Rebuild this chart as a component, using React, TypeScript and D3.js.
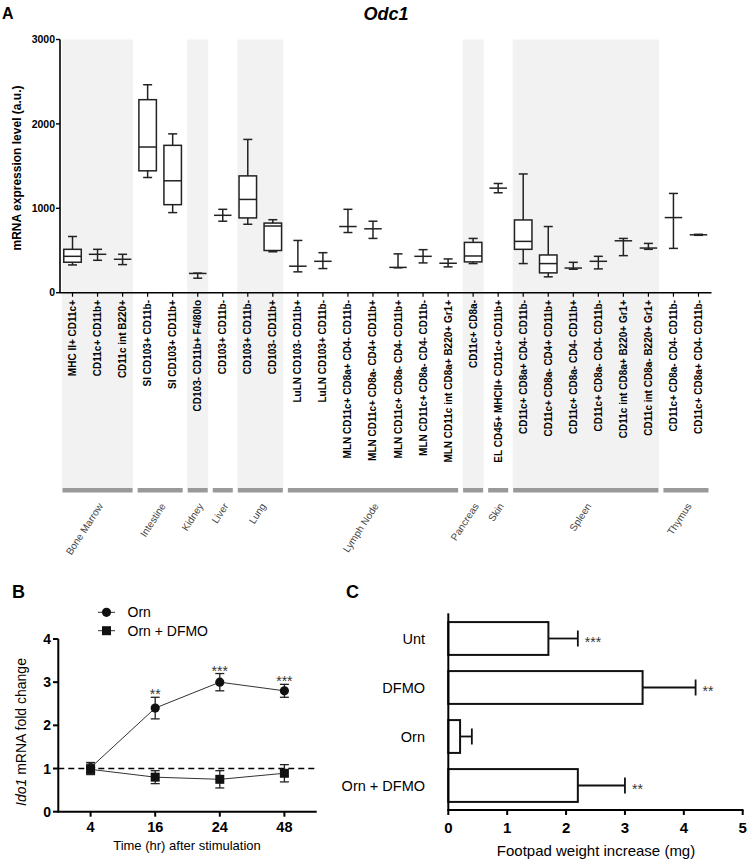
import React from 'react';
import * as d3 from 'd3';

const FONT = '"Liberation Sans", Arial, Helvetica, sans-serif';

// ---- Panel A: Odc1 expression in DC subsets ----
const CELL_TYPES = [
  'MHC II+ CD11c+',
  'CD11c+ CD11b+',
  'CD11c int B220+',
  'SI CD103+ CD11b-',
  'SI CD103+ CD11b+',
  'CD103- CD11b+ F4/80lo',
  'CD103+ CD11b-',
  'CD103+ CD11b-',
  'CD103- CD11b+',
  'LuLN CD103- CD11b+',
  'LuLN CD103+ CD11b-',
  'MLN CD11c+ CD8a+ CD4- CD11b-',
  'MLN CD11c+ CD8a- CD4+ CD11b+',
  'MLN CD11c+ CD8a- CD4- CD11b+',
  'MLN CD11c+ CD8a- CD4- CD11b-',
  'MLN CD11c int CD8a+ B220+ Gr1+',
  'CD11c+ CD8a-',
  'EL CD45+ MHCII+ CD11c+ CD11b+',
  'CD11c+ CD8a+ CD4- CD11b-',
  'CD11c+ CD8a- CD4+ CD11b+',
  'CD11c+ CD8a- CD4- CD11b+',
  'CD11c+ CD8a- CD4- CD11b-',
  'CD11c int CD8a+ B220+ Gr1+',
  'CD11c int CD8a- B220+ Gr1+',
  'CD11c+ CD8a- CD4- CD11b-',
  'CD11c+ CD8a+ CD4- CD11b-',
];
const TISSUES = ['Bone Marrow', 'Intestine', 'Kidney', 'Liver', 'Lung', 'Lymph Node', 'Pancreas', 'Skin', 'Spleen', 'Thymus'];
const TISSUE_SIZES = [3, 2, 1, 1, 2, 7, 1, 1, 6, 2];
const TISSUE_SHADED = [true, false, true, false, true, false, true, false, true, false];

const ODC1_MIN = [329, 384, 333, 1365, 949, 172, 847, 811, 485, 247, 286, 713, 643, 295, 353, 306, 345, 1184, 345, 188, 278, 282, 439, 514, 525, 680];
const ODC1_Q1 = [361, 455, 396, 1444, 1043, 228, 917, 886, 500, 314, 372, 784, 757, 300, 431, 349, 365, 1239, 514, 235, 292, 372, 615, 529, 890, 686];
const ODC1_MED = [431, 455, 396, 1726, 1326, 228, 917, 1105, 790, 314, 372, 784, 757, 300, 431, 349, 435, 1239, 608, 345, 292, 372, 615, 529, 890, 686];
const ODC1_Q3 = [514, 455, 396, 2287, 1746, 228, 917, 1384, 825, 314, 372, 784, 757, 300, 431, 349, 596, 1239, 862, 447, 292, 372, 615, 529, 890, 686];
const ODC1_MAX = [666, 514, 455, 2464, 1882, 232, 988, 1816, 865, 619, 474, 988, 847, 460, 510, 400, 643, 1294, 1407, 784, 360, 431, 643, 584, 1176, 692];
const ODC1_TICKS = [0, 1000, 2000, 3000];

// ---- Panel B: Ido1 time course ----
const TIMES = ['4', '16', '24', '48'];
const ORN_MEAN = [1.02, 2.4, 3.0, 2.8];
const ORN_ERR = [0.12, 0.25, 0.2, 0.15];
const ORN_DFMO_MEAN = [0.98, 0.8, 0.75, 0.89];
const ORN_DFMO_ERR = [0.12, 0.15, 0.2, 0.2];
const B_SIGNIF = ['', '**', '***', '***'];
const B_TICKS = [0, 1, 2, 3, 4];

// ---- Panel C: footpad weight ----
const TREATMENTS = ['Unt', 'DFMO', 'Orn', 'Orn + DFMO'];
const FOOTPAD_MEAN = [1.7, 3.3, 0.2, 2.2];
const FOOTPAD_ERR = [0.5, 0.9, 0.2, 0.8];
const C_SIGNIF = ['***', '**', '', '**'];
const C_TICKS = [0, 1, 2, 3, 4, 5];

function PanelA() {
  const idx = d3.range(CELL_TYPES.length);
  const x = d3.scaleBand<number>().domain(idx).range([60, 711]);
  const y = d3.scaleLinear().domain([0, 3000]).range([292.7, 39.5]);
  const bw = x.bandwidth();
  const boxW = 17.5;
  const capW = 9;
  const stroke = '#222';

  let start = 0;
  const groups = TISSUES.map((name, i) => {
    const s = start;
    start += TISSUE_SIZES[i];
    return { name, x0: x(s)!, x1: x(start - 1)! + bw, shaded: TISSUE_SHADED[i] };
  });

  return (
    <g>
      {groups.filter(g => g.shaded).map(g => (
        <rect key={'sh' + g.name} x={g.x0 + 2} y={y(3000)} width={g.x1 - g.x0 - 4} height={488 - y(3000)} fill="#f2f2f2" />
      ))}
      {groups.map(g => (
        <g key={'grp' + g.name}>
          <rect x={g.x0 + 2.5} y={488} width={g.x1 - g.x0 - 5} height={4.5} fill="#999" />
          <text
            transform={`translate(${(g.x0 + g.x1) / 2 + 6},506) rotate(-57)`}
            textAnchor="end"
            fontSize={10}
            fill="#444"
          >
            {g.name}
          </text>
        </g>
      ))}

      {/* boxes */}
      {idx.map(i => {
        const cx = x(i)! + bw / 2;
        return (
          <g key={'box' + i} stroke={stroke} strokeWidth={1.5} fill="none">
            <line x1={cx} x2={cx} y1={y(ODC1_MAX[i])} y2={y(ODC1_MIN[i])} />
            <line x1={cx - capW / 2} x2={cx + capW / 2} y1={y(ODC1_MAX[i])} y2={y(ODC1_MAX[i])} />
            <line x1={cx - capW / 2} x2={cx + capW / 2} y1={y(ODC1_MIN[i])} y2={y(ODC1_MIN[i])} />
            {ODC1_Q3[i] > ODC1_Q1[i] && (
              <rect x={cx - boxW / 2} y={y(ODC1_Q3[i])} width={boxW} height={y(ODC1_Q1[i]) - y(ODC1_Q3[i])} fill="white" />
            )}
            <line x1={cx - boxW / 2} x2={cx + boxW / 2} y1={y(ODC1_MED[i])} y2={y(ODC1_MED[i])} />
          </g>
        );
      })}

      {/* axes */}
      <line x1={60} x2={60} y1={y(3000)} y2={y(0)} stroke="#000" strokeWidth={1.6} />
      <line x1={60} x2={711.5} y1={y(0)} y2={y(0)} stroke="#000" strokeWidth={1.6} />
      {ODC1_TICKS.map(t => (
        <g key={'yt' + t}>
          <line x1={56} x2={60} y1={y(t)} y2={y(t)} stroke="#000" strokeWidth={1.4} />
          <text x={55} y={y(t)} dy="0.35em" textAnchor="end" fontSize={10.5} fontWeight="bold">{t}</text>
        </g>
      ))}
      {idx.map(i => {
        const cx = x(i)! + bw / 2;
        return (
          <g key={'xt' + i}>
            <line x1={cx} x2={cx} y1={y(0)} y2={y(0) + 4} stroke="#000" strokeWidth={1.2} />
            <text transform={`translate(${cx},300) rotate(-90)`} dy="0.35em" textAnchor="end" fontSize={10} fontWeight="bold">
              {CELL_TYPES[i]}
            </text>
          </g>
        );
      })}
      <text transform={`translate(21,168) rotate(-90)`} textAnchor="middle" fontSize={12} fontWeight="bold">
        mRNA expression level (a.u.)
      </text>
      <text x={386} y={20} textAnchor="middle" fontSize={18} fontWeight="bold" fontStyle="italic">Odc1</text>
      <text x={2} y={19} fontSize={16} fontWeight="bold">A</text>
    </g>
  );
}

function PanelB() {
  const x = d3.scalePoint<string>().domain(TIMES).range([58.3, 316.7]).padding(0.5);
  const y = d3.scaleLinear().domain([0, 4]).range([811.7, 639]);
  const line = d3.line<number>().x((_, i) => x(TIMES[i])!).y(d => y(d));
  const capW = 9;
  const series = [
    { mean: ORN_MEAN, err: ORN_ERR, shape: 'circle' },
    { mean: ORN_DFMO_MEAN, err: ORN_DFMO_ERR, shape: 'square' },
  ];
  const marker = (shape: string, cx: number, cy: number, key: string) =>
    shape === 'circle' ? (
      <circle key={key} cx={cx} cy={cy} r={4.6} fill="#111" />
    ) : (
      <rect key={key} x={cx - 4.5} y={cy - 4.5} width={9} height={9} fill="#111" />
    );

  return (
    <g>
      <text x={12} y={598} fontSize={18} fontWeight="bold">B</text>
      {/* legend */}
      {series.map((s, k) => {
        const ly = 612.3 + k * 18.4;
        return (
          <g key={'lg' + k}>
            <line x1={98} x2={115} y1={ly} y2={ly} stroke="#333" strokeWidth={1} />
            {marker(s.shape, 106.5, ly, 'lm' + k)}
            <text x={127.5} y={ly} dy="0.35em" fontSize={14}>{k === 0 ? 'Orn' : 'Orn + DFMO'}</text>
          </g>
        );
      })}
      <line x1={58.3} x2={316.7} y1={y(1)} y2={y(1)} stroke="#000" strokeWidth={1.6} strokeDasharray="6,4" />
      {series.map((s, k) => (
        <g key={'s' + k}>
          <path d={line(s.mean)!} fill="none" stroke="#333" strokeWidth={1} />
          {s.mean.map((m, i) => {
            const cx = x(TIMES[i])!;
            return (
              <g key={'e' + i} stroke="#222" strokeWidth={1.3}>
                <line x1={cx} x2={cx} y1={y(m + s.err[i])} y2={y(m - s.err[i])} />
                <line x1={cx - capW / 2} x2={cx + capW / 2} y1={y(m + s.err[i])} y2={y(m + s.err[i])} />
                <line x1={cx - capW / 2} x2={cx + capW / 2} y1={y(m - s.err[i])} y2={y(m - s.err[i])} />
              </g>
            );
          })}
          {s.mean.map((m, i) => marker(s.shape, x(TIMES[i])!, y(m), 'm' + i))}
        </g>
      ))}
      {B_SIGNIF.map((t, i) => (
        <text key={'sig' + i} x={x(TIMES[i])!} y={y(ORN_MEAN[i] + ORN_ERR[i]) + 2} textAnchor="middle" fontSize={14} fill="#333">
          {t}
        </text>
      ))}
      {/* axes */}
      <line x1={58.3} x2={58.3} y1={y(4)} y2={y(0)} stroke="#000" strokeWidth={2} />
      <line x1={57.3} x2={316.7} y1={y(0)} y2={y(0)} stroke="#000" strokeWidth={2} />
      {B_TICKS.map(t => (
        <g key={'byt' + t}>
          <line x1={53} x2={58.3} y1={y(t)} y2={y(t)} stroke="#000" strokeWidth={2} />
          <text x={51} y={y(t)} dy="0.36em" textAnchor="end" fontSize={14} fontWeight="bold">{t}</text>
        </g>
      ))}
      {TIMES.map(t => (
        <g key={'bxt' + t}>
          <line x1={x(t)!} x2={x(t)!} y1={y(0)} y2={y(0) + 5} stroke="#000" strokeWidth={2} />
          <text x={x(t)!} y={832} textAnchor="middle" fontSize={14.5} fontWeight="bold">{t}</text>
        </g>
      ))}
      <text x={187} y={850} textAnchor="middle" fontSize={13}>Time (hr) after stimulation</text>
      <text transform="translate(26,732) rotate(-90)" textAnchor="middle" fontSize={14}>
        <tspan fontStyle="italic">Ido1</tspan> mRNA fold change
      </text>
    </g>
  );
}

function PanelC() {
  const y = d3.scaleBand<string>().domain(TREATMENTS).range([614, 810]).paddingInner(0.33).paddingOuter(0.165);
  const x = d3.scaleLinear().domain([0, 5]).range([448.3, 742.7]);
  const bh = y.bandwidth();
  return (
    <g>
      <text x={346} y={598} fontSize={18} fontWeight="bold">C</text>
      {TREATMENTS.map((t, i) => {
        const y0 = y(t)!;
        const cy = y0 + bh / 2;
        const xe = x(FOOTPAD_MEAN[i] + FOOTPAD_ERR[i]);
        return (
          <g key={'c' + t}>
            <line x1={x(FOOTPAD_MEAN[i])} x2={xe} y1={cy} y2={cy} stroke="#111" strokeWidth={1.8} />
            <line x1={xe} x2={xe} y1={cy - 8} y2={cy + 8} stroke="#111" strokeWidth={1.8} />
            <rect x={x(0)} y={y0} width={x(FOOTPAD_MEAN[i]) - x(0)} height={bh} fill="white" stroke="#111" strokeWidth={2} />
            <text x={425} y={cy} dy="0.36em" textAnchor="end" fontSize={14.5}>{t}</text>
            {C_SIGNIF[i] && (
              <text x={xe + 7} y={cy + 8} fontSize={14} fill="#333">{C_SIGNIF[i]}</text>
            )}
          </g>
        );
      })}
      <line x1={x(0)} x2={x(0)} y1={613.3} y2={810} stroke="#000" strokeWidth={2} />
      <line x1={x(0) - 1} x2={743.5} y1={810} y2={810} stroke="#000" strokeWidth={2} />
      {C_TICKS.map(t => (
        <g key={'cxt' + t}>
          <line x1={x(t)} x2={x(t)} y1={810} y2={815} stroke="#000" strokeWidth={2} />
          <text x={x(t)} y={833} textAnchor="middle" fontSize={15} fontWeight="bold">{t}</text>
        </g>
      ))}
      <text x={596} y={856} textAnchor="middle" fontSize={15}>Footpad weight increase (mg)</text>
    </g>
  );
}

export default function App() {
  return (
    <svg
      width={747}
      height={863}
      viewBox="0 0 747 863"
      style={{ position: 'absolute', left: 0, top: 0, background: '#fff' }}
      fontFamily={FONT}
    >
      <rect width={747} height={863} fill="#fff" />
      <PanelA />
      <PanelB />
      <PanelC />
    </svg>
  );
}
